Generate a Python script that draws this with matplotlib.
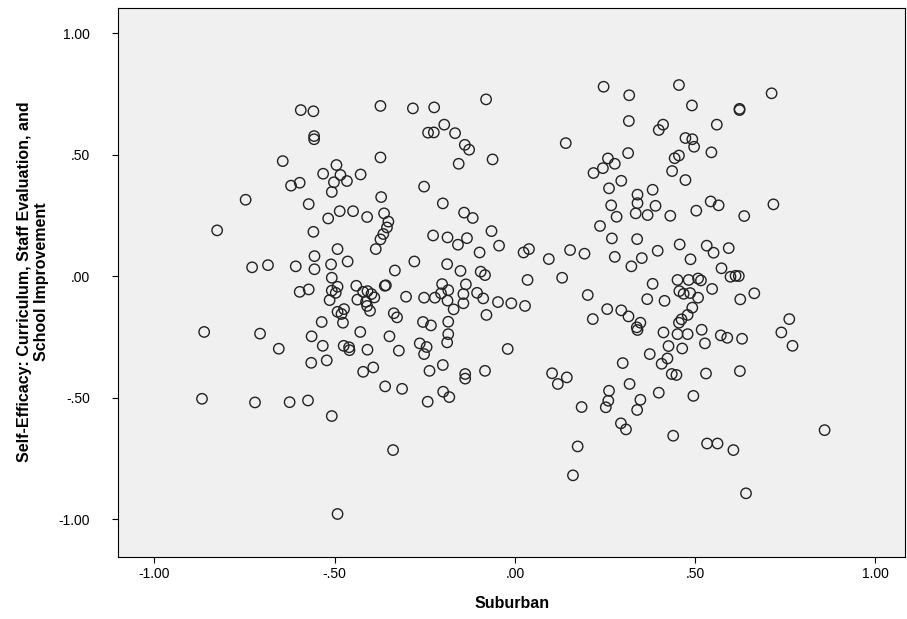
import matplotlib
matplotlib.use("Agg")
import matplotlib.pyplot as plt
from matplotlib.ticker import FuncFormatter

plt.rcParams['font.family'] = ['Liberation Sans', 'DejaVu Sans']

# Suburban (x) vs. self-efficacy score (y), one circle per respondent
x_vals = [
    -0.594, -0.559, -0.557, -0.557, -0.644, -0.495, -0.532, -0.484, -0.466, -0.428,
    -0.621, -0.597, -0.502, -0.508, -0.747, -0.572, -0.518, -0.486, -0.449, -0.826,
    -0.373, -0.283, -0.224, -0.080, -0.196, -0.241, -0.225, -0.166, -0.139, -0.127,
    -0.062, -0.373, -0.156, -0.252, -0.371, -0.200, -0.410, -0.363, -0.351, -0.141,
    -0.117,
    0.246, 0.317, 0.455, 0.316, 0.399, 0.411, 0.141, 0.314, 0.258, 0.277,
    0.244, 0.218, 0.295, 0.261, 0.382, 0.340, 0.340, 0.267, 0.390, 0.282,
    0.335, 0.368, 0.431, 0.443, 0.455, 0.436,
    0.712, 0.491, 0.623, 0.623, 0.560, 0.473, 0.492, 0.497, 0.545, 0.473,
    0.543, 0.565, 0.503, 0.636, 0.717,
    -0.559, -0.492, -0.556, -0.464, -0.729, -0.685, -0.608, -0.556, -0.510, -0.508,
    -0.492, -0.440, -0.597, -0.572, -0.508, -0.497, -0.514, -0.437, -0.492, -0.481,
    -0.474, -0.477, -0.536, -0.862, -0.707, -0.564, -0.533, -0.475, -0.460, -0.459,
    -0.655, -0.565, -0.522,
    -0.355, -0.365, -0.373, -0.386, -0.227, -0.187, -0.158, -0.133, -0.065, -0.044,
    -0.098, -0.279, -0.188, -0.151, -0.095, -0.083, -0.333,
    -0.421, -0.409, -0.398, -0.390, -0.413, -0.410, -0.402,
    -0.361, -0.358, -0.302, -0.252, -0.222, -0.202, -0.205, -0.185, -0.187, -0.170,
    -0.136, -0.143, -0.143, -0.105, -0.088, -0.047, -0.010, -0.079, -0.336, -0.327,
    -0.255, -0.233, -0.185, -0.185, -0.188, -0.429, -0.348, -0.264, -0.245, -0.252,
    -0.409, -0.322, -0.020, -0.393, -0.421, -0.237, -0.200, -0.138, -0.138, -0.083,
    0.236, 0.269, 0.339, 0.396, 0.277, 0.323, 0.352, 0.024, 0.039, 0.094,
    0.153, 0.193, 0.035, 0.131, 0.028, 0.202, 0.382, 0.367, 0.415, 0.216,
    0.256, 0.295, 0.315, 0.348, 0.338, 0.340, 0.412, 0.426, 0.374, 0.407,
    0.423, 0.299,
    0.457, 0.532, 0.551, 0.593, 0.487, 0.573, 0.598, 0.612, 0.621, 0.451,
    0.482, 0.508, 0.516, 0.456, 0.468, 0.486, 0.508, 0.547, 0.625, 0.664,
    0.492, 0.479, 0.462, 0.455, 0.451, 0.479, 0.518, 0.571, 0.589, 0.630,
    0.527, 0.464, 0.761, 0.739, 0.770,
    -0.868, -0.721, -0.625, -0.574, -0.508, -0.492,
    -0.360, -0.313, -0.242, -0.199, -0.182, -0.338,
    0.103, 0.144, 0.119, 0.261, 0.259, 0.252, 0.185, 0.318, 0.348, 0.339,
    0.399, 0.435, 0.448, 0.294, 0.308, 0.439, 0.174, 0.161,
    0.530, 0.624, 0.495, 0.533, 0.562, 0.606, 0.641, 0.859,
]
y_vals = [
    0.683, 0.678, 0.576, 0.563, 0.473, 0.457, 0.421, 0.416, 0.391, 0.418,
    0.372, 0.384, 0.386, 0.346, 0.314, 0.296, 0.237, 0.267, 0.267, 0.188,
    0.700, 0.690, 0.694, 0.727, 0.623, 0.590, 0.591, 0.588, 0.540, 0.520,
    0.480, 0.488, 0.462, 0.368, 0.325, 0.299, 0.243, 0.258, 0.224, 0.261,
    0.239,
    0.779, 0.744, 0.786, 0.638, 0.601, 0.623, 0.547, 0.506, 0.484, 0.462,
    0.444, 0.424, 0.392, 0.361, 0.355, 0.335, 0.300, 0.291, 0.289, 0.244,
    0.258, 0.251, 0.248, 0.485, 0.496, 0.432,
    0.752, 0.702, 0.688, 0.683, 0.623, 0.568, 0.563, 0.532, 0.509, 0.395,
    0.307, 0.291, 0.269, 0.247, 0.295,
    0.182, 0.111, 0.082, 0.060, 0.036, 0.045, 0.040, 0.028, 0.048, -0.007,
    -0.044, -0.040, -0.065, -0.055, -0.060, -0.069, -0.099, -0.097, -0.147, -0.156,
    -0.136, -0.192, -0.189, -0.230, -0.237, -0.248, -0.287, -0.287, -0.293, -0.305,
    -0.299, -0.357, -0.347,
    0.200, 0.173, 0.151, 0.111, 0.167, 0.159, 0.129, 0.156, 0.185, 0.125,
    0.097, 0.060, 0.049, 0.021, 0.018, 0.004, 0.023,
    -0.065, -0.062, -0.074, -0.088, -0.106, -0.123, -0.143,
    -0.040, -0.038, -0.085, -0.089, -0.089, -0.033, -0.071, -0.058, -0.101, -0.137,
    -0.034, -0.074, -0.112, -0.069, -0.092, -0.107, -0.112, -0.160, -0.153, -0.170,
    -0.189, -0.203, -0.188, -0.239, -0.273, -0.230, -0.248, -0.277, -0.292, -0.321,
    -0.303, -0.307, -0.300, -0.376, -0.394, -0.390, -0.366, -0.403, -0.422, -0.390,
    0.206, 0.155, 0.152, 0.104, 0.079, 0.040, 0.074, 0.097, 0.111, 0.070,
    0.107, 0.092, -0.016, -0.007, -0.123, -0.078, -0.032, -0.095, -0.102, -0.177,
    -0.136, -0.141, -0.166, -0.192, -0.211, -0.222, -0.232, -0.288, -0.321, -0.361,
    -0.339, -0.358,
    0.130, 0.125, 0.096, 0.115, 0.069, 0.032, -0.003, 0.001, 0.000, -0.016,
    -0.016, -0.010, -0.018, -0.062, -0.073, -0.070, -0.089, -0.053, -0.096, -0.071,
    -0.130, -0.160, -0.178, -0.192, -0.239, -0.239, -0.221, -0.244, -0.254, -0.258,
    -0.277, -0.298, -0.177, -0.232, -0.287,
    -0.505, -0.520, -0.519, -0.512, -0.576, -0.979,
    -0.454, -0.464, -0.517, -0.476, -0.498, -0.716,
    -0.400, -0.417, -0.444, -0.472, -0.513, -0.540, -0.539, -0.444, -0.509, -0.551,
    -0.480, -0.403, -0.407, -0.606, -0.631, -0.657, -0.701, -0.820,
    -0.401, -0.391, -0.493, -0.689, -0.689, -0.716, -0.894, -0.634,
]
tick_vals = [-1.0, -0.5, 0.0, 0.5, 1.0]


def spss_fmt(v, pos):
    # SPSS drops the leading zero: .50, -.50
    s = "%.2f" % v
    return s.replace("0.", ".", 1) if abs(v) < 1 else s


W, H = 907, 619
fig = plt.figure(figsize=(W / 100, H / 100), dpi=100, facecolor='white')
ax = fig.add_axes([118 / W, (H - 557) / H, (905 - 118) / W, (557 - 8) / H])
ax.set_facecolor('#f0f0f0')

ax.scatter(x_vals, y_vals, s=56, facecolors='none', edgecolors='#222222', linewidths=1.0)

ax.set_xlim(-1.101, 1.082)
ax.set_ylim(-1.156, 1.103)
ax.set_xticks(tick_vals)
ax.set_yticks(tick_vals)
ax.xaxis.set_major_formatter(FuncFormatter(spss_fmt))
ax.yaxis.set_major_formatter(FuncFormatter(spss_fmt))
ax.tick_params(axis='both', direction='out', length=4, width=0.8, colors='black', labelsize=10)
ax.tick_params(axis='y', pad=16)
ax.tick_params(axis='x', pad=3)
for sp in ax.spines.values():
    sp.set_linewidth(0.8)
    sp.set_color('black')

fig.text(512 / W, 1 - 603 / H, "Suburban", ha='center', va='center', fontsize=11.5, fontweight='bold')
fig.text(33 / W, 1 - 282 / H, "Self-Efficacy: Curriculum, Staff Evaluation, and\nSchool Improvement",
         ha='center', va='center', rotation=90, fontsize=11.5, fontweight='bold', linespacing=1.1)

fig.savefig("out.png", dpi=100)
